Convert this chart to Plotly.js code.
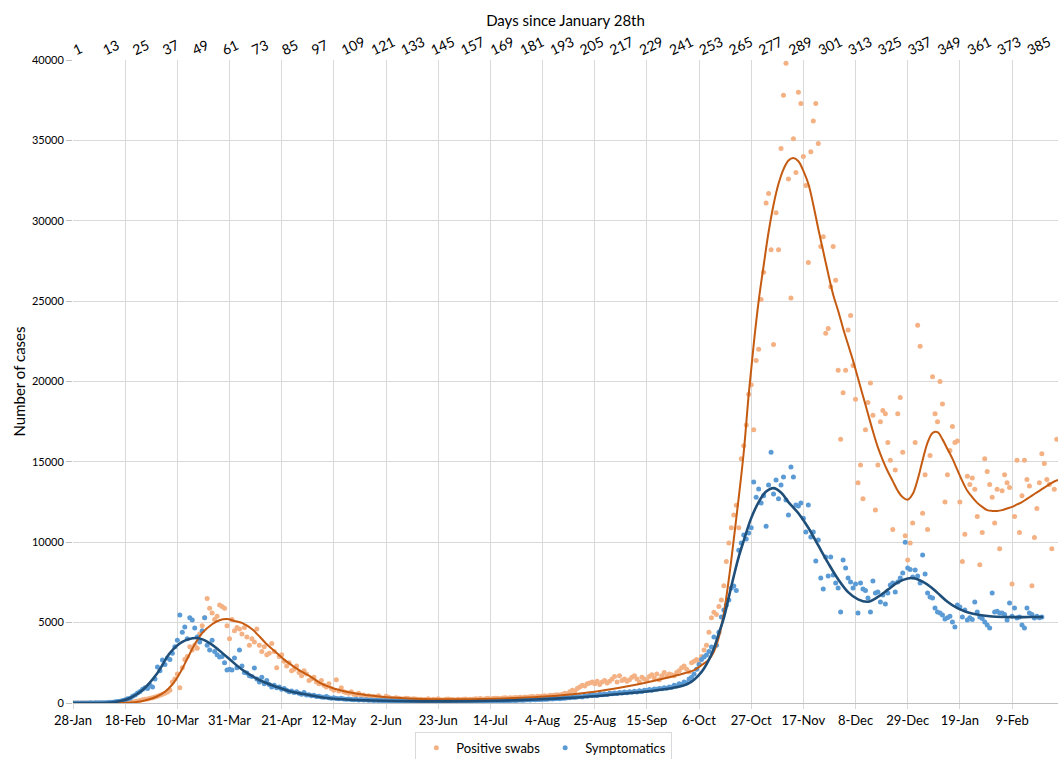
<!DOCTYPE html>
<html>
<head>
<meta charset="utf-8">
<script src="https://cdn.plot.ly/plotly-3.0.1.min.js"></script>
<style>html,body{margin:0;padding:0;background:#fff;}#chart{width:1058px;height:759px;}</style>
</head>
<body>
<div id="chart"></div>
<script>
// ---- Data (day index 0 = 28 January) ----
const positiveSwabs = [
  0,0,0,0,0,0,0,0,0,0,
  0,0,0,0,0,0,0,0,0,0,
  0,0,5,20,60,90,120,150,200,230,
  250,300,320,380,420,480,550,600,680,800,
  1300,1500,1800,950,2200,2700,2900,3500,3300,3600,
  3400,4300,4800,5300,6500,5900,5600,5200,5400,6100,
  6000,5900,4800,4000,5200,4500,4700,4600,4300,4700,
  4100,3600,4000,3800,4600,3600,3200,3500,3000,3100,
  3700,3200,2200,2900,3000,2600,2300,2500,2000,2100,
  2300,1900,1700,2000,1800,1400,1500,1600,1300,1200,
  1400,1100,1000,1200,900,800,1450,750,950,700,
  650,600,700,550,500,600,450,500,400,450,
  350,400,380,450,330,300,420,350,300,280,
  320,300,260,250,300,280,230,260,250,220,
  240,200,220,260,190,230,210,260,200,180,
  230,250,210,220,190,230,200,240,250,220,
  240,230,260,250,280,240,270,300,250,280,
  290,300,270,310,320,300,330,310,340,320,
  350,330,380,360,390,400,370,420,400,430,
  450,420,480,460,500,520,490,550,600,580,
  700,800,750,900,1000,1100,1050,1200,1250,1300,
  1200,1350,1150,1300,1400,1250,1350,1500,1650,1300,
  1700,1400,1500,1350,1450,1600,1700,1500,1300,1600,
  1500,1400,1650,1750,1550,1800,1450,1700,1900,1650,
  1800,1750,1700,1900,2000,2200,2300,2100,1950,2500,
  2600,2700,2500,2900,3300,3600,4400,5300,5650,5500,
  6000,6400,7300,8800,9950,10900,11700,12300,10900,15200,
  16000,17300,19200,19800,17000,21300,22000,25100,26800,31100,
  31700,28200,22300,30500,28200,34500,37800,39800,32600,25200,
  35100,33000,38000,37300,34000,32200,27400,34300,36200,37300,
  34800,28400,29000,23000,23300,25900,28400,26300,20700,16400,
  19300,20700,23200,24100,21000,18900,13700,14800,12700,17000,
  18700,19900,17900,12000,14800,17500,18200,18000,16200,15100,
  10800,14500,18000,19000,15600,10400,8900,9950,11200,16200,
  23500,22200,11800,14200,10800,15400,20300,18000,17500,20000,
  18600,12500,14200,15700,17200,16200,16300,12500,8800,10500,
  14100,13600,14000,13300,11600,8600,10600,15200,14400,13600,
  12800,11200,13300,9600,13200,14200,13700,13400,7400,11600,
  15100,10600,12900,15100,13900,13500,7300,10300,12100,13700,
  15500,14900,13900,13600,9600,13300,16400
];
const symptomatics = [
  0,0,0,0,5,0,5,10,5,10,
  10,15,20,20,30,40,50,70,90,110,
  150,200,260,300,420,500,620,720,850,950,
  900,1100,1000,1500,2240,2000,2670,2400,2800,2700,
  3100,3500,3900,5470,4400,4730,4000,5300,5160,4670,
  4100,3800,4500,5300,3600,3300,3900,3200,3000,2860,
  2900,2500,2050,2100,2050,2800,2200,3300,2300,1900,
  1870,1700,1650,2180,1500,1300,1600,1200,1400,1150,
  1000,1100,950,1000,850,900,800,700,750,650,
  700,600,550,650,500,520,450,480,400,420,
  380,350,400,320,300,330,280,260,300,250,
  230,250,220,200,240,190,210,180,200,170,
  180,160,170,150,160,140,150,130,150,140,
  130,120,140,110,120,100,120,110,100,110,
  100,90,110,100,90,100,95,110,90,100,
  100,110,90,100,110,95,100,110,120,100,
  110,120,100,115,130,110,120,130,125,140,
  130,140,150,135,145,160,150,170,160,175,
  180,170,190,200,185,210,200,220,210,230,
  240,230,260,250,270,280,260,300,290,320,
  320,350,340,380,400,370,450,420,480,460,
  500,470,540,520,560,530,600,580,620,590,
  650,620,680,640,700,670,730,690,760,720,
  800,780,840,800,870,850,900,880,950,920,
  1000,980,1100,1050,1200,1150,1300,1250,1500,1600,
  1800,2100,2400,2700,2860,2980,3200,3480,4100,3600,
  4400,5350,5780,6100,6400,7150,7280,7000,9500,9950,
  10450,10200,10570,10900,13750,12800,13310,12440,12900,11000,
  13560,15600,13000,13870,12700,13560,14060,12630,11700,14680,
  14060,12320,12250,12440,11500,10640,12320,10330,10640,8830,
  10140,7780,7090,9080,7900,9080,7960,7460,7150,5660,
  8900,8400,7780,7530,7150,7400,5600,7460,7090,7000,
  6530,5660,7590,6840,6900,6280,6720,6160,6840,7340,
  7460,6900,7530,7780,8090,10000,8400,8300,7840,8270,
  7900,7460,9200,8020,6840,6600,6530,5910,5660,5600,
  5470,5220,5300,5400,5040,4730,6100,5970,5350,5780,
  5160,5300,5200,6280,5660,5350,5250,5040,4850,4670,
  6840,5660,5700,5600,5600,5500,5160,6220,5400,5910,
  5290,5350,4850,4670,5910,5600,5500,5290,5400,5300,
  5350
];
// smoothed trend curves
const swabTrendDays = [0,10,20,25,30,34,37,40,43,46,49,52,56,59,62,65,68,72,75,78,82,85,88,92,95,100,105,110,115,120,125,130,140,150,160,170,180,190,200,210,220,230,240,245,250,253,256,258,260,262,264,266,268,270,272,274,276,278,280,282,284,286,288,290,292,294,296,298,300,302,304,306,308,310,312,314,316,318,320,322,324,326,328,330,332,334,336,338,340,342,344,346,348,350,352,354,356,358,360,362,364,366,368,370,372,374,376,378,380,382,384,386,388,390,392,394,396.5];
const swabTrend = [0,0,10,50,200,420,700,1150,1850,2750,3650,4350,4900,5150,5220,5100,4980,4600,4150,3650,3110,2700,2360,1950,1700,1200,900,700,560,460,380,320,250,230,240,270,320,400,530,700,950,1250,1600,1800,2050,2350,2700,3200,4100,5600,7700,10200,12800,15600,19200,22300,25000,27200,29300,31000,32300,33200,33750,33900,33700,33100,32300,31000,29500,28100,26700,25400,24400,23300,22300,21300,20200,19100,18000,16900,15900,15100,14400,13800,13200,12800,12650,13000,13900,15100,16200,16800,16850,16400,15800,15200,14500,13800,13200,12800,12450,12200,12000,11950,11950,12000,12100,12200,12350,12500,12700,12900,13100,13300,13500,13700,13870];
const sympTrendDays = [0,10,15,20,23,28,34,39,44,50,55,62,68,75,82,88,95,102,110,120,130,140,150,160,170,180,190,200,210,220,230,240,245,248,250,252,254,256,258,260,262,264,266,268,270,273,276,279,282,285,288,292,296,300,304,308,312,316,320,324,328,332,336,339,342,345,348,352,356,360,365,370,375,380,385,390.5];
const sympTrend = [0,0,30,150,310,810,1870,3110,3800,4040,3730,2860,2080,1430,1000,700,500,310,220,160,120,100,100,110,140,180,240,320,420,560,700,900,1050,1240,1450,1750,2150,2700,3400,4350,5300,6600,7900,9100,10100,11500,12500,13150,13370,13100,12500,11800,10900,9800,8700,7700,6900,6450,6300,6600,7050,7500,7750,7750,7550,7250,6850,6300,5900,5650,5470,5380,5350,5340,5350,5350];

const dateLabels = ['28-Jan','18-Feb','10-Mar','31-Mar','21-Apr','12-May','2-Jun','23-Jun','14-Jul','4-Aug','25-Aug','15-Sep','6-Oct','27-Oct','17-Nov','8-Dec','29-Dec','19-Jan','9-Feb'];
const dayLabels = [1,13,25,37,49,61,73,85,97,109,121,133,145,157,169,181,193,205,217,229,241,253,265,277,289,301,313,325,337,349,361,373,385];

const days = a => a.map((_, i) => i);
const FONT = 'Lato, "Open Sans", "Liberation Sans", sans-serif';

const traces = [
  {x: days(positiveSwabs), y: positiveSwabs, type: 'scatter', mode: 'markers', name: 'Positive swabs',
   marker: {color: '#F4B183', size: 5}},
  {x: days(symptomatics), y: symptomatics, type: 'scatter', mode: 'markers', name: 'Symptomatics',
   marker: {color: '#5B9BD5', size: 5}},
  {x: swabTrendDays, y: swabTrend, type: 'scatter', mode: 'lines', showlegend: false,
   line: {color: '#C55A11', width: 2, shape: 'spline', smoothing: 1}},
  {x: sympTrendDays, y: sympTrend, type: 'scatter', mode: 'lines', showlegend: false,
   line: {color: '#1F4E79', width: 2.6, shape: 'spline', smoothing: 1}},
  {x: [0], y: [0], xaxis: 'x2', type: 'scatter', mode: 'markers', showlegend: false,
   marker: {opacity: 0}, hoverinfo: 'skip'}
];

const layout = {
  width: 1058, height: 759,
  margin: {l: 73, r: 0, t: 60, b: 56, autoexpand: false},
  paper_bgcolor: '#fff', plot_bgcolor: '#fff',
  font: {family: FONT, color: '#000'},
  showlegend: true,
  legend: {orientation: 'h', x: 0.478, xanchor: 'center', yref: 'container', y: 0.036, yanchor: 'top',
           bordercolor: '#d9d9d9', borderwidth: 1, font: {size: 13, family: FONT, color: '#000'},
           itemsizing: 'trace', tracegroupgap: 0},
  xaxis: {range: [0, 396.5], tickvals: dateLabels.map((_, i) => i * 21), ticktext: dateLabels,
          tickangle: 0, tickfont: {size: 13, family: FONT, color: '#000'},
          showgrid: true, gridcolor: '#d9d9d9', gridwidth: 1, zeroline: false,
          showline: true, linecolor: '#bfbfbf', ticks: 'outside', ticklen: 5, tickcolor: '#d9d9d9'},
  xaxis2: {overlaying: 'x', side: 'top', matches: 'x', range: [0, 396.5],
           tickvals: dayLabels.map(d => d - 1), ticktext: dayLabels.map(String),
           tickangle: -25, tickfont: {size: 14, family: FONT, color: '#000'},
           showgrid: false, zeroline: false, showline: false, ticks: '',
           title: {text: 'Days since January 28th', font: {size: 15, family: FONT, color: '#000'}, standoff: 2}},
  yaxis: {range: [0, 40000], dtick: 5000, tickformat: 'd', tickfont: {size: 11, family: FONT, color: '#000'},
          showgrid: true, gridcolor: '#d9d9d9', zeroline: false, showline: false,
          ticks: 'outside', ticklen: 6, tickcolor: '#bfbfbf',
          title: {text: 'Number of cases', font: {size: 15, family: FONT, color: '#000'}, standoff: 2}}
};

Plotly.newPlot('chart', traces, layout, {displayModeBar: false, staticPlot: true});
</script>
</body>
</html>
